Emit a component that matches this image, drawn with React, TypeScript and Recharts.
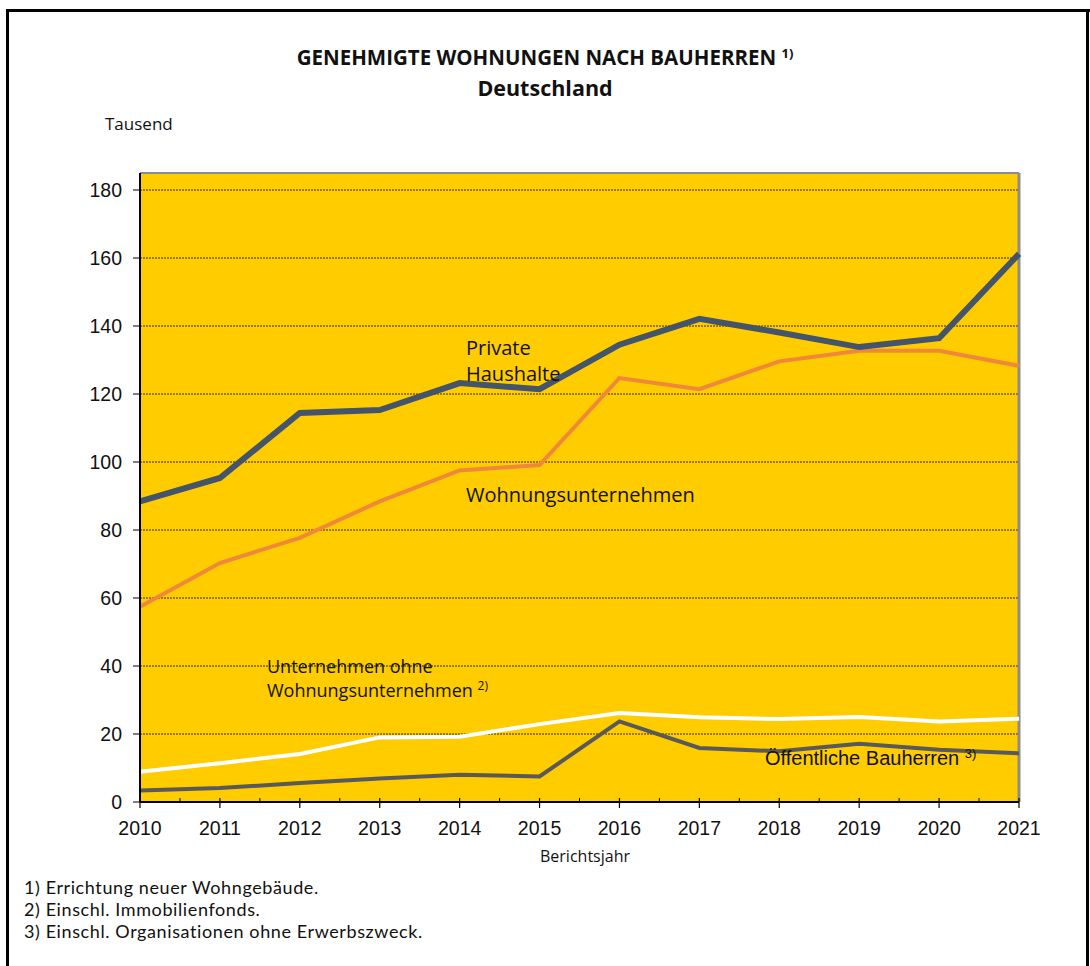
import React from "react";
import {
  CartesianGrid,
  Line,
  LineChart,
  ReferenceLine,
  XAxis,
  YAxis,
} from "recharts";

// values in thousand dwellings
const years = [2010, 2011, 2012, 2013, 2014, 2015, 2016, 2017, 2018, 2019, 2020, 2021];
const privateHaushalte = [88.4, 95.3, 114.4, 115.3, 123.2, 121.4, 134.5, 142.1, 138.1, 133.8, 136.4, 161.2];
const wohnungsunternehmen = [57.4, 70.3, 77.7, 88.4, 97.5, 99.1, 124.7, 121.4, 129.6, 132.7, 132.7, 128.3];
const unternehmenOhne = [8.9, 11.4, 14.1, 19.0, 19.2, 22.9, 26.2, 24.9, 24.4, 25.0, 23.7, 24.5];
const oeffentliche = [3.4, 4.1, 5.6, 6.9, 8.0, 7.5, 23.7, 15.9, 14.9, 17.1, 15.4, 14.3];
const yTicks = [0, 20, 40, 60, 80, 100, 120, 140, 160, 180];
const footnotes = [
  "1) Errichtung neuer Wohngebäude.",
  "2) Einschl. Immobilienfonds.",
  "3) Einschl. Organisationen ohne Erwerbszweck.",
];

const data = years.map((year, i) => ({
  year,
  ph: privateHaushalte[i],
  wu: wohnungsunternehmen[i],
  uo: unternehmenOhne[i],
  oe: oeffentliche[i],
}));

// year ticks plus half-year minor ticks
const xTicks = years.flatMap((y, i) => (i < years.length - 1 ? [y, y + 0.5] : [y]));

const SANS = "'Open Sans', 'Noto Sans', sans-serif";
const LATO = "Lato, 'Open Sans', sans-serif";
const ARIAL = "'Liberation Sans', Arial, sans-serif";

function YearTick(props: any) {
  const { x, y, payload } = props;
  const v = payload.value as number;
  if (Number.isInteger(v)) {
    return (
      <g>
        <line x1={x} x2={x} y1={y - 4} y2={y + 6} stroke="#000" strokeWidth={1.2} />
        <text x={x} y={y + 33} textAnchor="middle" fontFamily={ARIAL} fontSize={19.5} fill="#111">
          {v}
        </text>
      </g>
    );
  }
  return <line x1={x} x2={x} y1={y - 4} y2={y} stroke="#000" strokeWidth={1} />;
}

function Txt({
  x,
  y,
  size,
  children,
  bold,
  font,
  center,
  spacing,
}: {
  x: number;
  y: number;
  size: number;
  children: React.ReactNode;
  bold?: boolean;
  font?: string;
  center?: boolean;
  spacing?: number;
}) {
  return (
    <div
      style={{
        position: "absolute",
        left: center ? x - 400 : x,
        width: center ? 800 : undefined,
        textAlign: center ? "center" : "left",
        top: y - size * 0.575,
        fontSize: size,
        lineHeight: `${size * 1.15}px`,
        fontFamily: font ?? SANS,
        fontWeight: bold ? 700 : 400,
        letterSpacing: spacing ?? 0,
        color: "#111",
        whiteSpace: "nowrap",
      }}
    >
      {children}
    </div>
  );
}

const sup = (s: string, size: number) => (
  <span style={{ fontSize: size, verticalAlign: "0.55em", lineHeight: 0 }}>{s}</span>
);

export default function App() {
  return (
    <div style={{ position: "absolute", left: 0, top: 0, width: 1090, height: 966, background: "#fff" }}>
      {/* outer frame */}
      <div style={{ position: "absolute", left: 6, top: 9, width: 3, height: 957, background: "#000" }} />
      <div style={{ position: "absolute", left: 6, top: 9, width: 1084, height: 3, background: "#000" }} />
      <div style={{ position: "absolute", left: 1086, top: 9, width: 3, height: 957, background: "#000" }} />

      <div style={{ position: "absolute", left: 0, top: 0 }}>
        <LineChart
          width={1090}
          height={966}
          data={data}
          margin={{ top: 173, right: 71, bottom: 134, left: 80 }}
        >
          <CartesianGrid
            vertical={false}
            fill="#FFCC00"
            fillOpacity={1}
            stroke="#000"
            strokeDasharray="2 1"
            strokeWidth={0.8}
          />
          <XAxis
            dataKey="year"
            type="number"
            domain={[2010, 2021]}
            ticks={xTicks}
            interval={0}
            tickSize={0}
            tickMargin={0}
            tickLine={false}
            tick={<YearTick />}
            axisLine={{ stroke: "#000", strokeWidth: 2 }}
          />
          <YAxis
            type="number"
            domain={[0, 185]}
            ticks={yTicks}
            interval={0}
            width={60}
            tickSize={7}
            tickMargin={11}
            tickLine={{ stroke: "#000" }}
            axisLine={{ stroke: "#000", strokeWidth: 2 }}
            tick={{ fontFamily: ARIAL, fontSize: 19.5, fill: "#111" }}
          />
          <ReferenceLine y={185} stroke="#8c8c8c" strokeWidth={2} />
          <ReferenceLine x={2021} stroke="#8c8c8c" strokeWidth={3} />
          <Line dataKey="oe" stroke="#595959" strokeWidth={4} dot={false} isAnimationActive={false} />
          <Line dataKey="uo" stroke="#ffffff" strokeWidth={4} dot={false} isAnimationActive={false} />
          <Line dataKey="wu" stroke="#F0883A" strokeWidth={4} dot={false} isAnimationActive={false} />
          <Line dataKey="ph" stroke="#44546A" strokeWidth={6} dot={false} isAnimationActive={false} />
        </LineChart>
      </div>

      <Txt x={545} y={58} size={20.5} bold center>
        GENEHMIGTE WOHNUNGEN NACH BAUHERREN {sup("1)", 13)}
      </Txt>
      <Txt x={545} y={88} size={21.5} bold center>
        Deutschland
      </Txt>
      <Txt x={105} y={124} size={17}>
        Tausend
      </Txt>

      <Txt x={466} y={347} size={20}>
        Private
      </Txt>
      <Txt x={466} y={373} size={20}>
        Haushalte
      </Txt>
      <Txt x={466} y={494} size={20}>
        Wohnungsunternehmen
      </Txt>
      <Txt x={267} y={666} size={18}>
        Unternehmen ohne
      </Txt>
      <Txt x={267} y={690} size={18}>
        Wohnungsunternehmen {sup("2)", 12)}
      </Txt>
      <Txt x={765} y={758} size={20} font={ARIAL}>
        Öffentliche Bauherren {sup("3)", 13)}
      </Txt>

      <Txt x={585} y={856} size={16} center>
        Berichtsjahr
      </Txt>
      {footnotes.map((f, i) => (
        <Txt key={f} x={24} y={887 + i * 22} size={18} font={LATO} spacing={0.6}>
          {f}
        </Txt>
      ))}
    </div>
  );
}
